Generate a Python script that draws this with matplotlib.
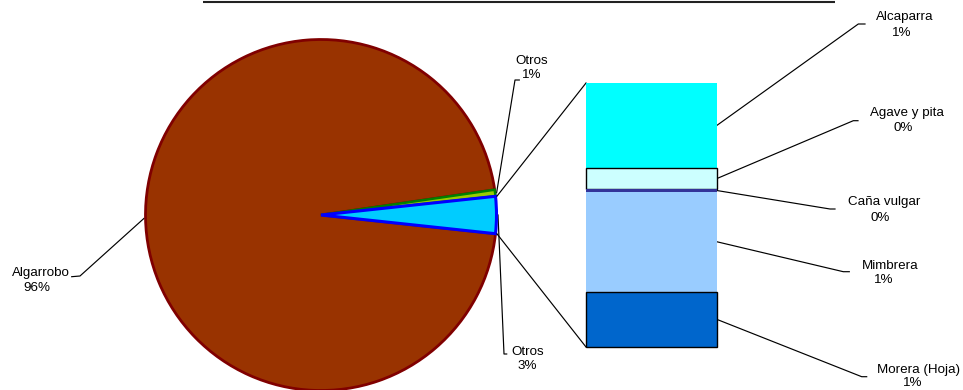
import matplotlib
matplotlib.use('Agg')
import matplotlib.pyplot as plt
import numpy as np

# ---------------- data ----------------
pie_categories = ['Algarrobo', 'Otros']          # main pie slices (besides composite)
pie_values = [96.0, 0.60]
composite_label = 'Otros'                        # slice expanded into the bar
bar_categories = ['Alcaparra', 'Agave y pita', 'Caña vulgar', 'Mimbrera', 'Morera (Hoja)']
bar_values = [1.09, 0.28, 0.03, 1.29, 0.71]

# ---------------- style / layout ----------------
W, H = 963, 390
plt.rcParams['font.family'] = ['Liberation Sans', 'DejaVu Sans']
FS = 9.6

fig = plt.figure(figsize=(W / 100, H / 100), dpi=100)
ax = fig.add_axes([0, 0, 1, 1])

def P(px, py):
    return px, H - py

comp_val = sum(bar_values)
total = comp_val + sum(pie_values)
half = comp_val / total * 360 / 2

pie_center_px = (321, 215)
pie_r = 175.5
cx, cy = P(*pie_center_px)

vals = [comp_val, pie_values[1], pie_values[0]]
fills = ['#00CCFF', '#99CC00', '#993300']
edges = ['#0000FF', '#008000', '#800000']
lws = [2.2, 1.8, 2.0]
wedges, _ = ax.pie(vals, startangle=-half, center=(cx, cy), radius=pie_r,
                   colors=fills, counterclock=True)
for w, ec, lw, z in zip(wedges, edges, lws, [5, 4, 3]):
    w.set_edgecolor(ec)
    w.set_linewidth(lw)
    w.set_zorder(z)

ax.set_xlim(0, W)
ax.set_ylim(0, H)
ax.set_aspect('auto')
ax.axis('off')

# ---------------- bar of composite ----------------
bar_rect_px = (586, 83, 717, 347)  # left, top, right, bottom
bx = fig.add_axes([bar_rect_px[0] / W, (H - bar_rect_px[3]) / H,
                   (bar_rect_px[2] - bar_rect_px[0]) / W,
                   (bar_rect_px[3] - bar_rect_px[1]) / H])
bar_fills = ['#00FFFF', '#CCFFFF', '#333399', '#99CCFF', '#0066CC']
bar_edges = ['none', 'black', 'none', 'none', 'black']
bottoms = np.concatenate([[0], np.cumsum(bar_values)[:-1]])
for v, b, fc, ec in zip(bar_values, bottoms, bar_fills, bar_edges):
    bx.bar(0, v, bottom=b, width=1, color=fc, edgecolor=ec,
           linewidth=1.0 if ec != 'none' else 0, clip_on=False)
bx.set_xlim(-0.5, 0.5)
bx.set_ylim(comp_val, 0)
bx.axis('off')

to_main = lambda pt: ax.transData.inverted().transform(bx.transData.transform(pt))

LW = 0.85
# connectors pie -> bar
for ang, by in [(half, 0), (-half, comp_val)]:
    a = np.deg2rad(ang)
    r_out = pie_r + 1.5
    p0 = (cx + r_out * np.cos(a), cy + r_out * np.sin(a))
    p1 = to_main((-0.5, by))
    ax.plot([p0[0], p1[0]], [p0[1], p1[1]], color='black', lw=LW, zorder=6)

def label(name, pct, name_xy, pct_xy):
    ax.text(*P(*name_xy), name, ha='center', va='center', fontsize=FS, zorder=7)
    ax.text(*P(*pct_xy), pct, ha='center', va='center', fontsize=FS, zorder=7)

def pct(v):
    return f"{int(round(v / total * 100))}%"

# pie slice labels
mid_angles = {}
acc = -half
for name_key, v in zip(['comp', 'green', 'alg'], vals):
    ang = acc + v / total * 360
    mid_angles[name_key] = (acc + ang) / 2
    acc = ang

pie_label_layout = {
    'alg':   dict(name=(40.5, 272.7), pct=(36.7, 288.3), elbow=[(80, 276), (71.7, 276.7)]),
    'green': dict(name=(532, 60.7), pct=(531.7, 75.0), elbow=[(515, 80), (519.3, 80)]),
    'comp':  dict(name=(527.5, 351.7), pct=(527.3, 366.0), elbow=[(504, 354), (506.7, 354)]),
}
pie_label_text = {'alg': (pie_categories[0], pie_values[0]),
                  'green': (pie_categories[1], pie_values[1]),
                  'comp': (composite_label, comp_val)}
for key, lay in pie_label_layout.items():
    a = np.deg2rad(mid_angles[key])
    r_out = pie_r + 1.5
    pts = [(cx + r_out * np.cos(a), cy + r_out * np.sin(a))] + [P(*e) for e in lay['elbow']]
    xs, ys = zip(*pts)
    ax.plot(xs, ys, color='black', lw=LW, zorder=2)
    nm, v = pie_label_text[key]
    label(nm, pct(v), lay['name'], lay['pct'])

# bar labels
bar_label_layout = [
    dict(name=(905, 16.7), pct=(901.7, 33.3), elbow=[(858.3, 24), (865, 24)]),
    dict(name=(907, 113.3), pct=(903, 128.3), elbow=[(853.3, 120.7), (858, 120.7)]),
    dict(name=(884, 201.7), pct=(880, 218.3), elbow=[(830, 209), (835, 209)]),
    dict(name=(890, 266), pct=(884, 280), elbow=[(843.3, 271.7), (849.3, 271.7)]),
    dict(name=(919, 369.5), pct=(913, 383.5), elbow=[(861.7, 376.7), (866.7, 376.7)]),
]
for nm, v, b, lay in zip(bar_categories, bar_values, bottoms, bar_label_layout):
    p0 = to_main((0.5, b + v / 2))
    pts = [tuple(p0)] + [P(*e) for e in lay['elbow']]
    xs, ys = zip(*pts)
    ax.plot(xs, ys, color='black', lw=LW, zorder=6)
    label(nm, pct(v), lay['name'], lay['pct'])

# top border line
ax.plot([P(203, 1.5)[0], P(835, 1.5)[0]], [P(203, 1.5)[1], P(835, 1.5)[1]],
        color='#222222', lw=1.5, solid_capstyle='butt', clip_on=False)

fig.savefig('out.png', dpi=100)
